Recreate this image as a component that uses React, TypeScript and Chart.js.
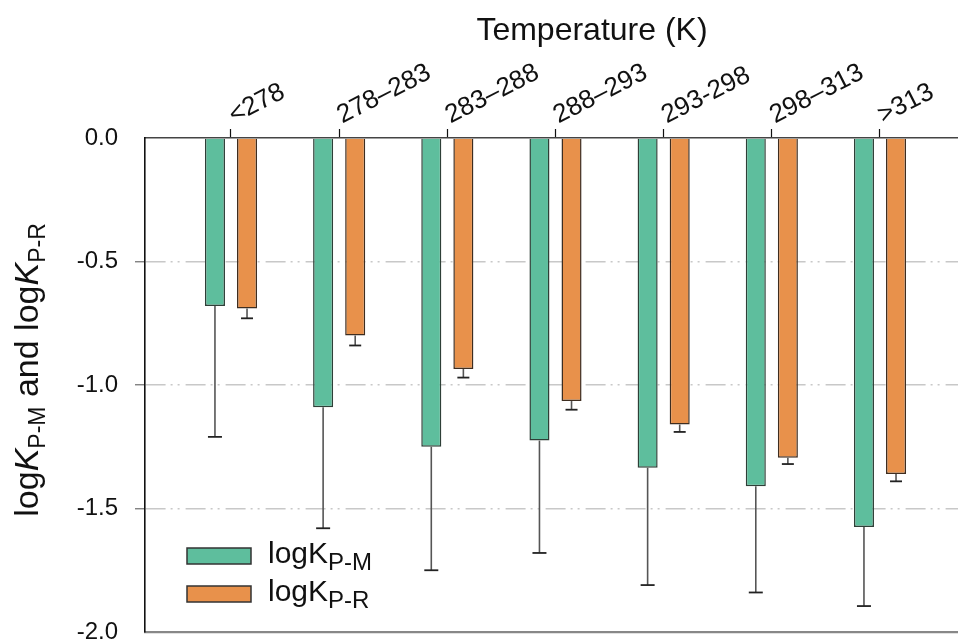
import React, { useEffect, useRef } from "react";
import { Chart, registerables } from "chart.js";

Chart.register(...registerables);

// ---- data ----
const categories = ["<278", "278–283", "283–288", "288–293", "293-298", "298–313", ">313"];
const logKPM = [-0.68, -1.09, -1.25, -1.225, -1.335, -1.41, -1.575];
const logKPMLower = [-1.21, -1.58, -1.75, -1.68, -1.81, -1.84, -1.895];
const logKPR = [-0.69, -0.8, -0.935, -1.065, -1.16, -1.295, -1.36];
const logKPRLower = [-0.73, -0.84, -0.97, -1.1, -1.19, -1.32, -1.39];
const yTicks = [0, -0.5, -1.0, -1.5, -2.0];
const xTitle = "Temperature (K)";

const FONT = "'Liberation Sans', Arial, Helvetica, sans-serif";
const GREEN = "#5ebe9d";
const ORANGE = "#e8914b";
const X_MIN = -0.795;
const X_MAX = 7.47;

const errorBarPlugin = {
  id: "errorBars",
  afterDatasetsDraw(chart: any) {
    const ctx = chart.ctx;
    const yScale = chart.scales.y;
    const lows = [logKPMLower, logKPRLower];
    ctx.save();
    chart.data.datasets.forEach((_: any, d: number) => {
      const meta = chart.getDatasetMeta(d);
      meta.data.forEach((el: any, i: number) => {
        const yLow = yScale.getPixelForValue(lows[d][i]);
        const capHalf = d === 0 ? 7 : 6;
        ctx.strokeStyle = "#555";
        ctx.lineWidth = 1.6;
        ctx.beginPath();
        ctx.moveTo(el.x, el.y);
        ctx.lineTo(el.x, yLow);
        ctx.stroke();
        ctx.strokeStyle = "#222";
        ctx.lineWidth = 1.8;
        ctx.beginPath();
        ctx.moveTo(el.x - capHalf, yLow);
        ctx.lineTo(el.x + capHalf, yLow);
        ctx.stroke();
      });
    });
    ctx.restore();
  },
};

const annotationPlugin = {
  id: "customText",
  afterDraw(chart: any) {
    const ctx = chart.ctx;
    const area = chart.chartArea;
    ctx.save();
    // y-axis title with subscripts
    const main = 34;
    const sub = 23;
    const parts = [
      { t: "log", f: `${main}px ${FONT}`, dy: 0 },
      { t: "K", f: `italic ${main}px ${FONT}`, dy: 0 },
      { t: "P-M", f: `${sub}px ${FONT}`, dy: 7 },
      { t: " and log", f: `${main}px ${FONT}`, dy: 0 },
      { t: "K", f: `italic ${main}px ${FONT}`, dy: 0 },
      { t: "P-R", f: `${sub}px ${FONT}`, dy: 7 },
    ];
    let total = 0;
    const widths = parts.map((p) => {
      ctx.font = p.f;
      const w = ctx.measureText(p.t).width;
      total += w;
      return w;
    });
    ctx.translate(38, 370);
    ctx.rotate(-Math.PI / 2);
    ctx.fillStyle = "#111";
    ctx.textBaseline = "alphabetic";
    ctx.textAlign = "left";
    let x = -total / 2;
    parts.forEach((p, i) => {
      ctx.font = p.f;
      ctx.fillText(p.t, x, p.dy);
      x += widths[i];
    });
    ctx.setTransform(1, 0, 0, 1, 0, 0);

    // legend
    const rows = [
      { ds: 0, y: area.bottom - 84, sub: "P-M" },
      { ds: 1, y: area.bottom - 46, sub: "P-R" },
    ];
    rows.forEach((r) => {
      const ds = chart.data.datasets[r.ds];
      const bx = area.left + 42;
      ctx.fillStyle = ds.backgroundColor;
      ctx.fillRect(bx, r.y, 64, 16);
      ctx.strokeStyle = "#333";
      ctx.lineWidth = 1.5;
      ctx.strokeRect(bx, r.y, 64, 16);
      ctx.fillStyle = "#111";
      ctx.font = `30px ${FONT}`;
      ctx.fillText("logK", bx + 81, r.y + 15);
      const w = ctx.measureText("logK").width;
      ctx.font = `24px ${FONT}`;
      ctx.fillText(r.sub, bx + 81 + w, r.y + 22);
    });
    ctx.restore();
  },
};

export default function App() {
  const ref = useRef<HTMLCanvasElement | null>(null);
  useEffect(() => {
    if (!ref.current) return;
    const chart = new Chart(ref.current, {
      type: "bar",
      data: {
        datasets: [
          {
            label: "logKP-M",
            data: categories.map((_, i) => ({ x: i, y: logKPM[i] })) as any,
            backgroundColor: GREEN,
            borderColor: "#2e3f37",
            borderWidth: 1.5,
            categoryPercentage: 0.593,
            barPercentage: 0.625,
          },
          {
            label: "logKP-R",
            data: categories.map((_, i) => ({ x: i, y: logKPR[i] })) as any,
            backgroundColor: ORANGE,
            borderColor: "#3e2d20",
            borderWidth: 1.5,
            categoryPercentage: 0.593,
            barPercentage: 0.625,
          },
        ],
      },
      options: {
        animation: false,
        responsive: false,
        maintainAspectRatio: false,
        layout: { padding: { left: 0, top: 0, right: 1, bottom: 11 } },
        plugins: {
          legend: { display: false },
          tooltip: { enabled: false },
          title: { display: false },
        },
        scales: {
          x: {
            type: "linear",
            position: "top",
            min: X_MIN,
            max: X_MAX,
            offset: false,
            afterBuildTicks: (s: any) => {
              s.ticks = categories.map((_, i) => ({ value: i }));
            },
            ticks: {
              autoSkip: false,
              minRotation: 27,
              maxRotation: 27,
              padding: -2,
              labelOffset: 14,
              color: "#111",
              font: { family: FONT, size: 26 },
              callback: (v: any) => categories[Math.round(Number(v))] ?? "",
            },
            grid: {
              offset: false,
              drawOnChartArea: false,
              drawTicks: true,
              tickLength: 9,
              tickColor: "#111",
              tickWidth: 1.2,
            },
            border: { display: true, color: "#444", width: 1.6 },
            title: {
              display: true,
              text: xTitle,
              color: "#111",
              font: { family: FONT, size: 32 },
              padding: { top: 12, bottom: 0 },
            },
            afterFit: (s: any) => {
              s.height = 138;
              s.paddingLeft = 0;
              s.paddingRight = 0;
            },
          } as any,
          x2: {
            type: "linear",
            position: "bottom",
            min: X_MIN,
            max: X_MAX,
            offset: false,
            ticks: { display: false },
            grid: { display: false, drawTicks: false, offset: false },
            border: { display: true, color: "#888", width: 2.2 },
            afterFit: (s: any) => {
              s.height = 0;
              s.paddingLeft = 0;
              s.paddingRight = 0;
            },
          } as any,
          y: {
            type: "linear",
            min: -2,
            max: 0,
            afterBuildTicks: (s: any) => {
              s.ticks = yTicks.map((v) => ({ value: v }));
            },
            ticks: {
              color: "#111",
              padding: 17,
              font: { family: FONT, size: 24 },
              callback: (v: any) => Number(v).toFixed(1),
            },
            grid: {
              color: (c: any) =>
                c.tick && (c.tick.value === 0 || c.tick.value === -2) ? "rgba(0,0,0,0)" : "#c8c8c8",
              tickColor: (c: any) =>
                c.tick && (c.tick.value === 0 || c.tick.value === -2) ? "rgba(0,0,0,0)" : "#777",
              lineWidth: 1.5,
              tickLength: 10,
              tickWidth: 1.3,
              tickBorderDash: [],
              borderDash: [20, 5, 2, 5, 2, 6],
            },
            border: { display: true, color: "#111", width: 1.6, dash: [20, 5, 2, 5, 2, 6] },
            afterFit: (s: any) => {
              s.width = 145;
              s.paddingTop = 0;
              s.paddingBottom = 0;
            },
          } as any,
        },
      },
      plugins: [errorBarPlugin, annotationPlugin],
    });
    return () => chart.destroy();
  }, []);

  return (
    <div
      style={{
        position: "absolute",
        left: 0,
        top: 0,
        width: 958,
        height: 643,
        overflow: "hidden",
        background: "#fff",
      }}
    >
      <canvas ref={ref} width={1040} height={643} style={{ display: "block" }} />
    </div>
  );
}
